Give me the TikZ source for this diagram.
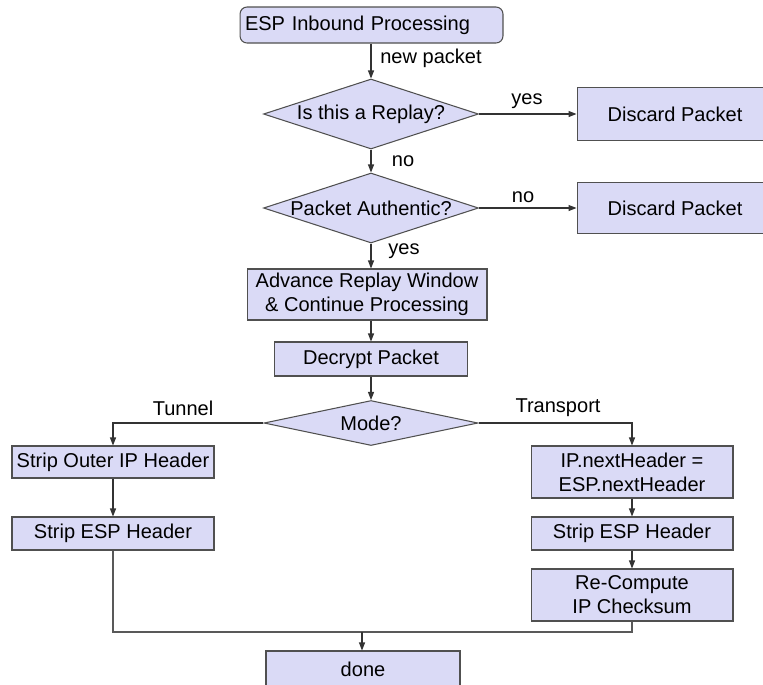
\documentclass[tikz,border=0pt]{standalone}
\usepackage{fontspec}
\setmainfont{Liberation Sans}
\usetikzlibrary{shapes.geometric,arrows.meta}
\definecolor{boxfill}{RGB}{218,218,246}
\definecolor{boxline}{RGB}{80,80,80}
\tikzset{
  stepbox/.style={draw=boxline, fill=boxfill, line width=0.6pt, inner sep=0pt, align=center, font=\fontsize{11.4}{13.7}\selectfont},
  decide/.style={stepbox, diamond},
  lbl/.style={font=\fontsize{11.4}{13.7}\selectfont, inner sep=0pt},
  flow/.style={-{Triangle[length=1.6mm,width=1.2mm]}, line width=0.6pt, draw=black!80},
  mergeline/.style={line width=0.6pt, draw=black!65},
}
\begin{document}
\begin{tikzpicture}[x=0.02cm,y=-0.02cm]
\clip (0,0) rectangle (763,684);

% top part
\node[stepbox, rounded corners=4pt, minimum width=5.26cm, minimum height=0.72cm, text width=5.06cm, align=left] (start) at (371.5,25) {ESP Inbound Processing};
\node[decide, minimum width=4.3cm, minimum height=1.4cm] (replay) at (371,114) {\makebox[0pt]{Is this a Replay?}};
\node[decide, minimum width=4.3cm, minimum height=1.4cm] (auth) at (371,208) {\makebox[0pt]{Packet Authentic?}};
\node[stepbox, minimum width=3.92cm, minimum height=1.06cm] (discA) at (675,114) {Discard Packet};
\node[stepbox, minimum width=3.92cm, minimum height=1.02cm] (discB) at (675,208) {Discard Packet};
\node[stepbox, minimum width=4.8cm, minimum height=1.02cm] (advance) at (367,294.5) {Advance Replay Window\\\& Continue Processing};
\node[stepbox, minimum width=3.86cm, minimum height=0.68cm] (decrypt) at (371,359) {Decrypt Packet};
\node[decide, minimum width=4.28cm, minimum height=0.9cm] (mode) at (371,423) {\makebox[0pt]{Mode?}};

% tunnel side
\node[stepbox, minimum width=4.04cm, minimum height=0.64cm] (outer) at (113,462) {Strip Outer IP Header};
\node[stepbox, minimum width=4.04cm, minimum height=0.66cm] (espL) at (113,533.5) {Strip ESP Header};

% transport side
\node[stepbox, minimum width=4.04cm, minimum height=1.04cm] (nexthdr) at (632,472) {IP.nextHeader =\\ESP.nextHeader};
\node[stepbox, minimum width=4.04cm, minimum height=0.66cm] (espR) at (632,533.5) {Strip ESP Header};
\node[stepbox, minimum width=4.04cm, minimum height=1.04cm] (recomp) at (632,595) {Re-Compute\\IP Checksum};

\node[stepbox, minimum width=3.88cm, minimum height=0.72cm] (done) at (363,669) {done};
\coordinate (merge) at (362,632);

% labels
\node[lbl, anchor=west] (newpkt) at (380,58) {new packet};
\node[lbl] (yesA) at (527,101) {yes};
\node[lbl] (noA) at (403,161) {no};
\node[lbl] (noB) at (523,197) {no};
\node[lbl] (yesB) at (404,251) {yes};
\node[lbl] (tunnel) at (183,408) {Tunnel};
\node[lbl] (transport) at (558,408) {Transport};

% connectors
\draw[flow] (start.south -| replay.north) -- (replay.north);
\draw[flow] (replay.east) -- (discA.west);
\draw[flow] (replay.south) -- (auth.north);
\draw[flow] (auth.east) -- (discB.west);
\draw[flow] (auth.south) -- (auth.south |- advance.north);
\draw[flow] (advance.south -| decrypt.north) -- (decrypt.north);
\draw[flow] (decrypt.south) -- (mode.north);
\draw[flow] (mode.west) -| (outer.north);
\draw[flow] (mode.east) -| (nexthdr.north);
\draw[flow] (outer) -- (espL);
\draw[flow] (nexthdr) -- (espR);
\draw[flow] (espR) -- (recomp);
\draw[mergeline] (espL.south) |- (merge) -| (recomp.south);
\draw[flow] (merge) -- (merge |- done.north);
\end{tikzpicture}
\end{document}
